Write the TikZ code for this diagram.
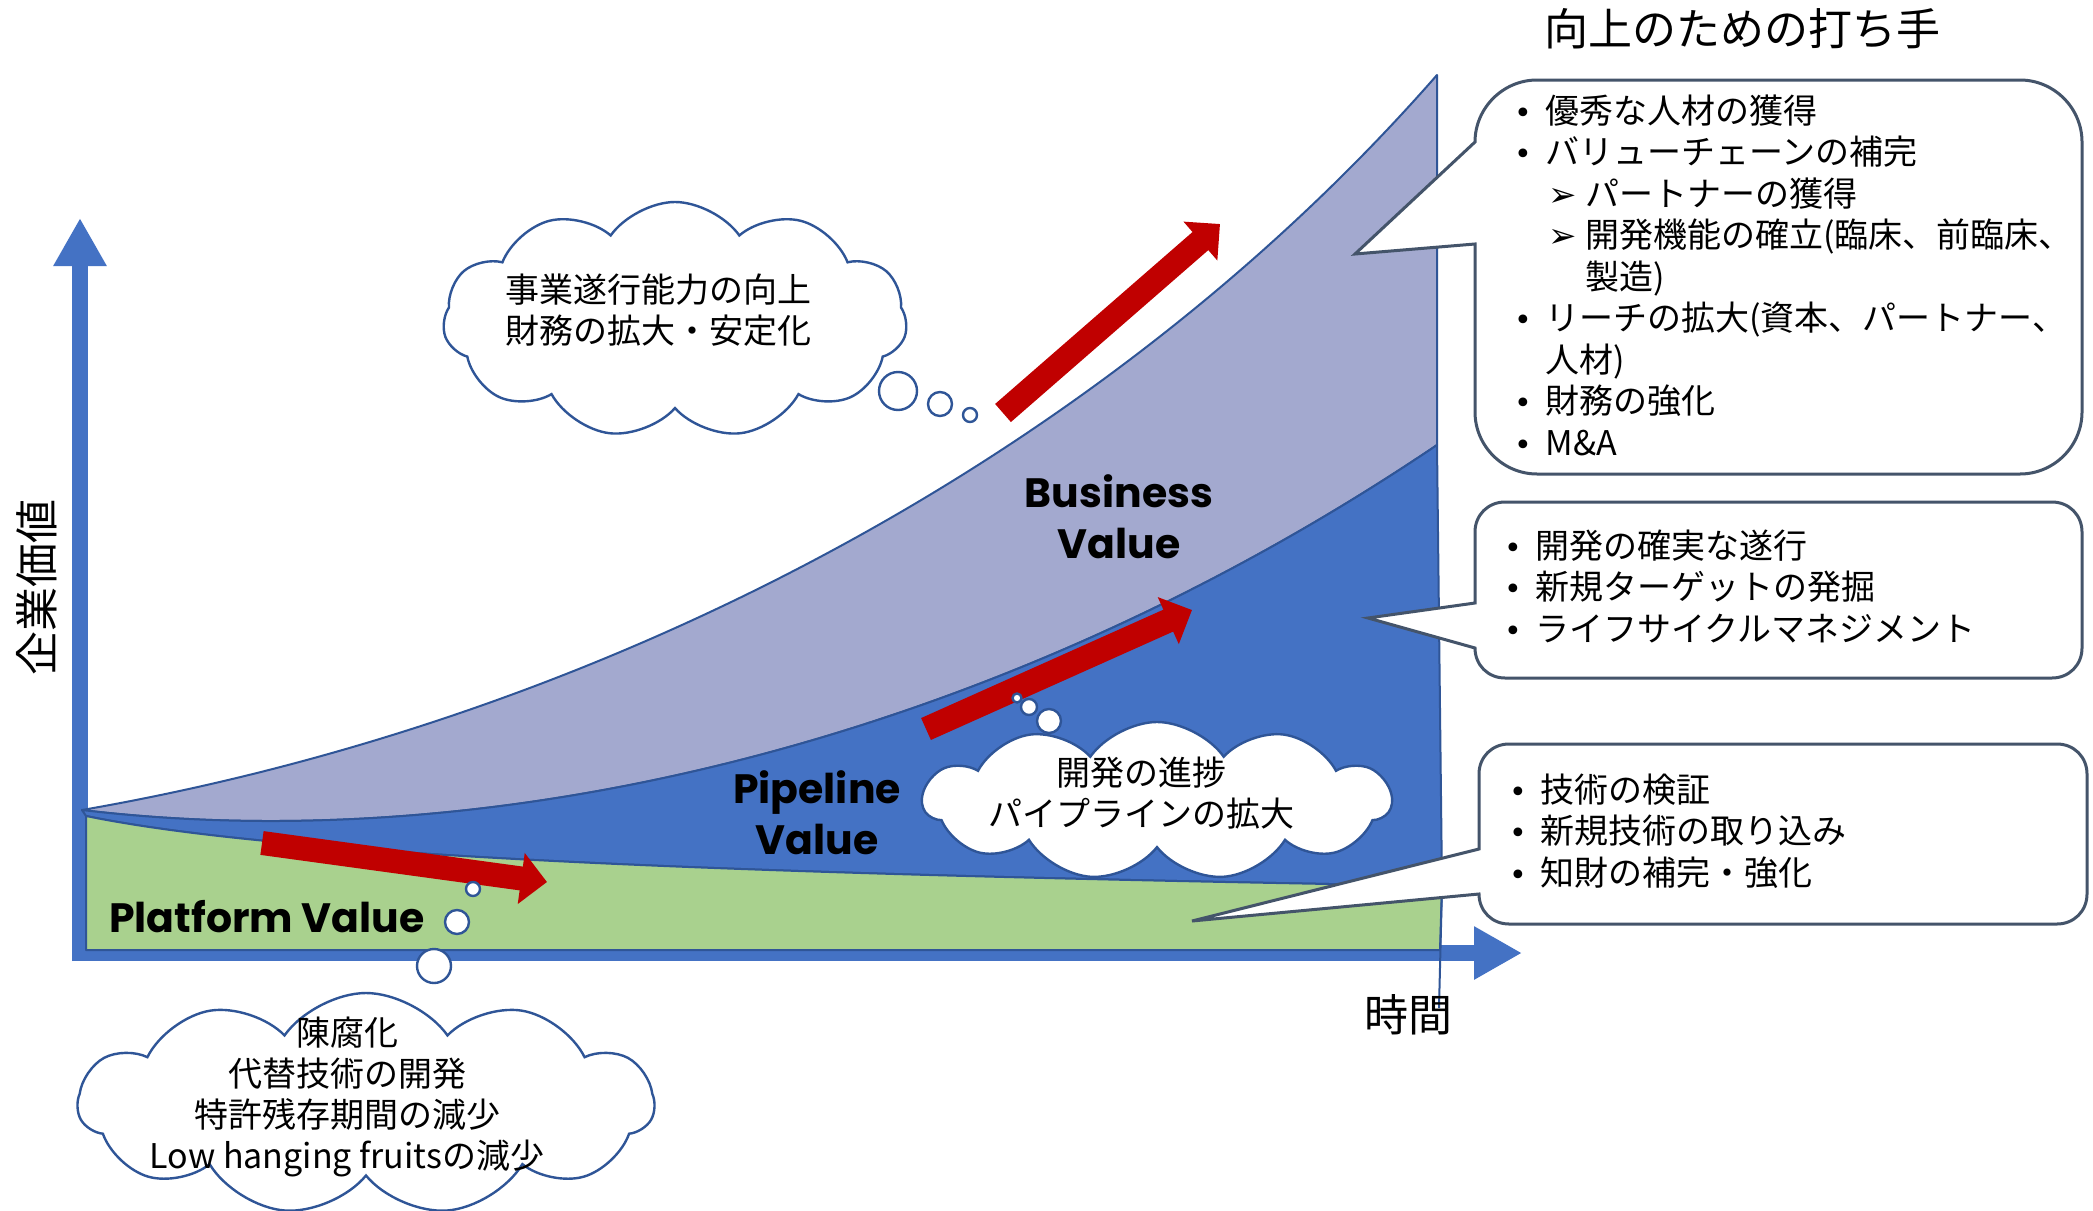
\documentclass[tikz,border=0pt]{standalone}
\usepackage{fontspec}
\setmainfont{Noto Sans CJK JP}
\newfontfamily\valuefont{Poppins}
\newfontfamily\markfont{DejaVu Sans}
\usetikzlibrary{shapes,arrows.meta,positioning,calc}

% list marks for the callouts
\newcommand{\bul}{\makebox[15.5pt][l]{\markfont\fontsize{15pt}{15pt}\selectfont •}}
\newcommand{\subbul}{\hspace*{17pt}\makebox[18.5pt][l]{\markfont\fontsize{17pt}{17pt}\selectfont ➢}}

\begin{document}
\begin{tikzpicture}[x=0.5pt, y=-0.5pt,
    axis/.style={draw=axisblue, line width=8pt, -{Triangle[length=24pt,width=25pt]}},
    area/.style={draw=edgeblue, line width=1pt, line join=round},
    uparrow/.style={draw=upred, line width=12pt, -{Triangle[length=13pt,width=25pt]}},
    valuelabel/.style={font=\valuefont\bfseries\fontsize{20.5pt}{25.5pt}\selectfont, align=center, inner sep=0pt},
    callout/.style={draw=callgray, line width=1.5pt, fill=white, line join=miter},
    listtext/.style={font=\fontsize{17pt}{20.75pt}\selectfont, anchor=west, align=left, inner sep=0pt},
    cloudbox/.style={cloud, cloud puffs=11, cloud puff arc=110, draw=edgeblue, line width=1.2pt, fill=white, inner sep=0pt},
    cloudtext/.style={font=\fontsize{17pt}{20.5pt}\selectfont, align=center, inner sep=0pt},
    bubble/.style={circle, draw=edgeblue, line width=1.2pt, fill=white, inner sep=0pt}]
        \definecolor{axisblue}{RGB}{68,114,196}
        \definecolor{bizpurple}{RGB}{163,169,207}
        \definecolor{pipeblue}{RGB}{68,114,196}
        \definecolor{platgreen}{RGB}{169,209,142}
        \definecolor{edgeblue}{RGB}{47,85,151}
        \definecolor{callgray}{RGB}{68,84,106}
        \definecolor{upred}{RGB}{192,0,0}

        % Page size first (coordinates are pixels, y downwards)
        \fill[white] (0,0) rectangle (2093,1210);
        \useasboundingbox (0,0) rectangle (2093,1210);

        % Axes under the value areas
        \coordinate (origin) at (80,953);
        \coordinate (y-top) at (80,218);
        \coordinate (x-end) at (1522,953);
        \draw[axis] (80,961) -- (y-top);
        \draw[axis] (72,953) -- (x-end);

        % Value areas: business on top, pipeline, platform at the bottom
        \coordinate (tip) at (82,810);
        \filldraw[area, fill=bizpurple] (tip) .. controls (600,720) and (1100,460) .. (1437,75) -- (1437,445) .. controls (1000,740) and (500,860) .. (tip) -- cycle;
        \filldraw[area, fill=pipeblue] (tip) .. controls (500,860) and (1000,740) .. (1437,445) -- (1442,886) .. controls (800,875) and (300,860) .. (86,816) -- cycle;
        \filldraw[area, fill=platgreen] (86,816) .. controls (300,860) and (800,875) .. (1442,886) -- (1440,950) -- (86,950) -- cycle;
        \draw[edgeblue, line width=1pt] (1442,886) -- (1439,1008);

        % Red growth arrows
        \coordinate (biz-from) at (1003,413);
        \coordinate (biz-to) at (1220,224);
        \coordinate (pipe-from) at (926,729);
        \coordinate (pipe-to) at (1192,610);
        \coordinate (plat-from) at (262,843);
        \coordinate (plat-to) at (547,882);
        \draw[uparrow] (biz-from) -- (biz-to);
        \draw[uparrow] (pipe-from) -- (pipe-to);
        \draw[uparrow] (plat-from) -- (plat-to);

        % Area names
        \node[valuelabel] (biz-label) at (1119,517) {Business\\Value};
        \node[valuelabel] (pipe-label) at (817,813) {Pipeline\\Value};
        \node[valuelabel] (plat-label) at (267,917) {Platform Value};

        % Callouts with their pointers
        \coordinate (plans-ptr) at (1355,254);
        \coordinate (pipe-ptr) at (1368,618);
        \coordinate (plat-ptr) at (1192,921);
        \draw[callout] (1475,244) -- (plans-ptr) -- (1475,142)
            .. controls (1475,108) and (1503,80) .. (1537,80) -- (2020,80)
            .. controls (2054,80) and (2082,108) .. (2082,142) -- (2082,412)
            .. controls (2082,446) and (2054,474) .. (2020,474) -- (1537,474)
            .. controls (1503,474) and (1475,446) .. (1475,412) -- cycle;
        \draw[callout] (1475,648) -- (pipe-ptr) -- (1475,603) -- (1475,532)
            .. controls (1475,515) and (1488,502) .. (1505,502) -- (2052,502)
            .. controls (2069,502) and (2082,515) .. (2082,532) -- (2082,648)
            .. controls (2082,665) and (2069,678) .. (2052,678) -- (1505,678)
            .. controls (1488,678) and (1475,665) .. (1475,648) -- cycle;
        \draw[callout] (1479,894) -- (plat-ptr) -- (1479,849) -- (1479,774)
            .. controls (1479,757) and (1492,744) .. (1509,744) -- (2057,744)
            .. controls (2074,744) and (2087,757) .. (2087,774) -- (2087,894)
            .. controls (2087,911) and (2074,924) .. (2057,924) -- (1509,924)
            .. controls (1492,924) and (1479,911) .. (1479,894) -- cycle;

        \node[listtext] (plans-list) at (1514,275) {\bul 優秀な人材の獲得\\
            \bul バリューチェーンの補完\\
            \subbul パートナーの獲得\\
            \subbul 開発機能の確立(臨床、前臨床、\\
            \hspace*{35.5pt}製造)\\
            \bul リーチの拡大(資本、パートナー、\\
            \hspace*{15.5pt}人材)\\
            \bul 財務の強化\\
            \bul M\&A};
        \node[listtext] (pipe-list) at (1504,586) {\bul 開発の確実な遂行\\
            \bul 新規ターゲットの発掘\\
            \bul ライフサイクルマネジメント};
        \node[listtext] (plat-list) at (1509,831) {\bul 技術の検証\\
            \bul 新規技術の取り込み\\
            \bul 知財の補完・強化};

        % Thought clouds and their bubbles
        \node[cloudbox, minimum width=232pt, minimum height=118pt] (biz-cloud) at (675,320) {};
        \node[cloudtext] (biz-thought) at (658,310) {事業遂行能力の向上\\財務の拡大・安定化};
        \node[bubble, minimum size=19pt] (biz-b1) at (898,391) {};
        \node[bubble, minimum size=12pt] (biz-b2) at (940,404) {};
        \node[bubble, minimum size=7pt] (biz-b3) at (970,415) {};

        \node[cloudbox, minimum width=234pt, minimum height=79pt] (pipe-cloud) at (1157,801) {};
        \node[cloudtext] (pipe-thought) at (1141,793) {開発の進捗\\パイプラインの拡大};
        \node[bubble, minimum size=12pt] (pipe-b1) at (1049,721) {};
        \node[bubble, minimum size=8pt] (pipe-b2) at (1029,707) {};
        \node[bubble, minimum size=4.5pt] (pipe-b3) at (1017,698) {};

        \node[cloudbox, minimum width=288pt, minimum height=111pt] (plat-cloud) at (366,1104) {};
        \node[cloudtext] (plat-thought) at (347,1097) {陳腐化\\代替技術の開発\\特許残存期間の減少\\Low hanging fruitsの減少};
        \node[bubble, minimum size=17pt] (plat-b1) at (434,966) {};
        \node[bubble, minimum size=12pt] (plat-b2) at (457,922) {};
        \node[bubble, minimum size=7pt] (plat-b3) at (473,889) {};

        % Axis names and title
        \node[rotate=90, font=\fontsize{22pt}{26pt}\selectfont] (y-label) at (37,587) {企業価値};
        \node[font=\fontsize{22pt}{26pt}\selectfont] (x-label) at (1408,1015) {時間};
        \node[font=\fontsize{22pt}{26pt}\selectfont] (plans-title) at (1742,29) {向上のための打ち手};
\end{tikzpicture}
\end{document}
